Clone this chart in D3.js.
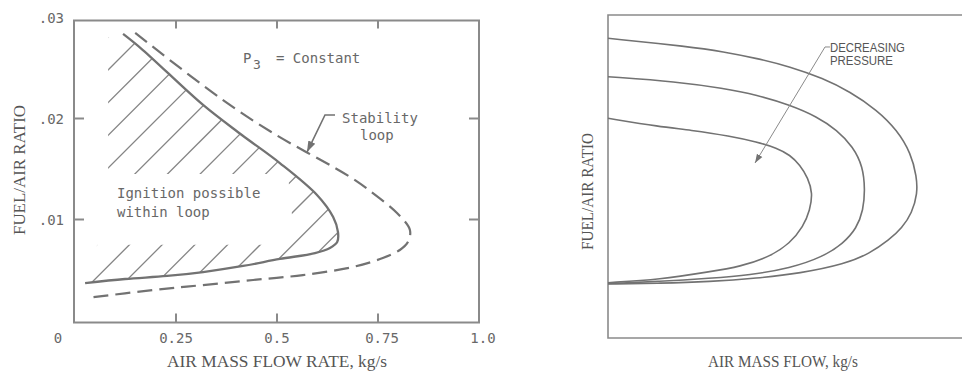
<!DOCTYPE html>
<html><head><meta charset="utf-8">
<script src="https://cdn.jsdelivr.net/npm/d3@7"></script>
<style>body{margin:0;background:#fff}svg{display:block}</style>
</head><body>
<svg id="c" width="962" height="374"></svg>
<script>
// ---------- Left panel data ----------
const xTickValuesL = [0.25, 0.5, 0.75];
const xTickLabelsL = ["0", "0.25", "0.5", "0.75", "1.0"];
const xTickLabelValuesL = [0, 0.25, 0.5, 0.75, 1.0];
const yTickValuesL = [0.01, 0.02];
const yTickLabelsL = [".01", ".02", ".03"];
const yTickLabelValuesL = [0.01, 0.02, 0.03];

// ignition loop (solid) [air mass flow kg/s, fuel/air ratio]
const ignitionLoop = [
  [0.119,0.02837],[0.168,0.02678],[0.317,0.02134],[0.413,0.01837],[0.507,0.01559],
  [0.599,0.01243],[0.639,0.01025],[0.651,0.00876],[0.649,0.00777],[0.631,0.00718],
  [0.594,0.00668],[0.507,0.00609],[0.416,0.00540],[0.317,0.00480],[0.228,0.00441],
  [0.124,0.00411],[0.025,0.00371]
];
// stability loop (dashed)
const stabilityLoop = [
  [0.149,0.02847],[0.359,0.02203],[0.490,0.01856],[0.681,0.01421],[0.743,0.01243],
  [0.797,0.01064],[0.829,0.00896],[0.824,0.00777],[0.804,0.00698],[0.762,0.00619],
  [0.688,0.00530],[0.564,0.00450],[0.441,0.00401],[0.317,0.00351],[0.193,0.00302],
  [0.030,0.00223]
];
// hatch extra boundary (left side) and un-hatched text band
const hatchLeftEdge = [[0.055,0.0075],[0.082,0.0075],[0.082,0.0280]];
const hatchGap = [[0.0,0.0145],[0.527,0.0145],[0.537,0.0105],[0.522,0.0075],[0.0,0.0075]];

// ---------- Right panel data (relative units) ----------
const curveHigh = [
  [0,0.9279],[0.2316,0.9019],[0.3249,0.8864],[0.4209,0.8659],[0.5141,0.8399],[0.6073,0.8040],
  [0.6836,0.7625],[0.7599,0.7059],[0.8164,0.6440],[0.8560,0.5718],[0.8720,0.4994],[0.8743,0.4480],
  [0.8588,0.3870],[0.8305,0.3406],[0.7938,0.3034],[0.7401,0.2622],[0.6695,0.2291],[0.5424,0.2003],
  [0.4201,0.1848],[0.2881,0.1743],[0.1469,0.1693],[0,0.1672]
];
const curveMid = [
  [0,0.8090],[0.1949,0.7935],[0.3249,0.7731],[0.4209,0.7523],[0.5141,0.7214],[0.5904,0.6851],
  [0.6469,0.6440],[0.6921,0.5923],[0.7203,0.5303],[0.7260,0.4582],[0.7212,0.3963],[0.7025,0.3396],
  [0.6647,0.2932],[0.6082,0.2517],[0.5141,0.2158],[0.4011,0.1950],[0.2881,0.1848],[0.1469,0.1749],
  [0,0.1687]
];
const curveLow = [
  [0,0.6802],[0.1469,0.6542],[0.2316,0.6440],[0.3446,0.6254],[0.4209,0.6068],[0.4774,0.5882],
  [0.5141,0.5666],[0.5424,0.5356],[0.5650,0.4954],[0.5782,0.4489],[0.5706,0.3963],[0.5517,0.3446],
  [0.5141,0.2932],[0.4576,0.2517],[0.3729,0.2207],[0.2881,0.2053],[0.1469,0.1811],[0,0.1712]
];
const pressureLeader = [[0.627,0.901],[0.613,0.901],[0.4153,0.5418]];
const stabilityLeader = [[0.6436,0.02035],[0.6188,0.02035],[0.5743,0.01668]];

// ---------- drawing ----------
const svg = d3.select("#c");
const ink = "#727272";
const textInk = "#686868";
const mono = "'DejaVu Sans Mono', monospace";
const serif = "'Liberation Serif', 'Times New Roman', serif";
const sans = "'Liberation Sans', Arial, sans-serif";

const defs = svg.append("defs");
function arrowMarker(id, size) {
  defs.append("marker").attr("id", id).attr("viewBox", "0 0 10 10")
    .attr("refX", 10).attr("refY", 5).attr("markerWidth", size).attr("markerHeight", size)
    .attr("markerUnits", "userSpaceOnUse").attr("orient", "auto")
    .append("path").attr("d", "M0,1.5 L10,5 L0,8.5 Z").attr("fill", ink);
}
arrowMarker("arrL", 11);
arrowMarker("arrR", 9);

// Left scales
const xL = d3.scaleLinear().domain([0, 1]).range([75, 479]);
const yL = d3.scaleLinear().domain([0, 0.03]).range([320.5, 17.5]);
const frameTopL = 20.5, frameBotL = 322.5;
const gL = svg.append("g");

gL.append("rect").attr("x", xL(0) - 1).attr("y", frameTopL)
  .attr("width", xL(1) - xL(0) + 1).attr("height", frameBotL - frameTopL)
  .attr("fill", "none").attr("stroke", "#8a8a8a").attr("stroke-width", 2);
xTickValuesL.forEach(v => {
  gL.append("line").attr("x1", xL(v)).attr("x2", xL(v)).attr("y1", frameTopL).attr("y2", frameTopL + 8)
    .attr("stroke", "#8a8a8a").attr("stroke-width", 2);
  gL.append("line").attr("x1", xL(v)).attr("x2", xL(v)).attr("y1", frameBotL).attr("y2", frameBotL - 9)
    .attr("stroke", "#8a8a8a").attr("stroke-width", 2);
});
yTickValuesL.forEach(v => {
  gL.append("line").attr("x1", xL(0) - 1).attr("x2", xL(0) + 9).attr("y1", yL(v)).attr("y2", yL(v))
    .attr("stroke", "#8a8a8a").attr("stroke-width", 2);
  gL.append("line").attr("x1", xL(1)).attr("x2", xL(1) - 10).attr("y1", yL(v)).attr("y2", yL(v))
    .attr("stroke", "#8a8a8a").attr("stroke-width", 2);
});
xTickLabelValuesL.forEach((v, i) => {
  gL.append("text").attr("x", v === 0 ? xL(0) - 17 : xL(v) + (v >= 0.75 ? 4 : 0)).attr("y", 343)
    .attr("text-anchor", "middle").attr("font-family", mono).attr("font-size", 14)
    .attr("fill", textInk).text(xTickLabelsL[i]);
});
yTickLabelValuesL.forEach((v, i) => {
  gL.append("text").attr("x", 64).attr("y", yL(v)).attr("dy", "0.36em")
    .attr("text-anchor", "end").attr("font-family", mono).attr("font-size", 14)
    .attr("fill", textInk).text(yTickLabelsL[i]);
});
gL.append("text").attr("transform", "translate(25,170) rotate(-90)")
  .attr("text-anchor", "middle").attr("font-family", serif).attr("font-size", 17)
  .attr("textLength", 130).attr("lengthAdjust", "spacingAndGlyphs")
  .attr("fill", "#555").text("FUEL/AIR RATIO");
gL.append("text").attr("x", 277).attr("y", 367)
  .attr("text-anchor", "middle").attr("font-family", serif).attr("font-size", 17)
  .attr("textLength", 220).attr("lengthAdjust", "spacingAndGlyphs")
  .attr("fill", "#555").text("AIR MASS FLOW RATE, kg/s");

// hatch
const lineL = d3.line().x(d => xL(d[0])).y(d => yL(d[1])).curve(d3.curveCatmullRom.alpha(0.5));
const polyL = d3.line().x(d => xL(d[0])).y(d => yL(d[1]));
const mask = defs.append("mask").attr("id", "hatchMask").attr("maskUnits", "userSpaceOnUse")
  .attr("x", 0).attr("y", 0).attr("width", 962).attr("height", 374);
const loopPath = lineL(ignitionLoop);
const edgePath = hatchLeftEdge.map(d => "L" + xL(d[0]) + "," + yL(d[1])).join("") + "Z";
mask.append("path").attr("d", loopPath + edgePath).attr("fill", "#fff");
mask.append("path").attr("d", polyL(hatchGap) + "Z").attr("fill", "#000");
const hatchG = gL.append("g").attr("mask", "url(#hatchMask)");
const spacing = 32.7, phase = 178;
for (let c = phase - spacing * 4; c < 900; c += spacing) {
  hatchG.append("line").attr("x1", c - 374).attr("y1", 374).attr("x2", c).attr("y2", 0)
    .attr("stroke", "#858585").attr("stroke-width", 1.3);
}

gL.append("path").attr("d", lineL(stabilityLoop)).attr("fill", "none")
  .attr("stroke", ink).attr("stroke-width", 2.2).attr("stroke-dasharray", "15,7");
gL.append("path").attr("d", loopPath).attr("fill", "none")
  .attr("stroke", ink).attr("stroke-width", 2.3);

gL.append("text").attr("x", xL(0.4158)).attr("y", yL(0.0255)).attr("font-family", mono)
  .attr("font-size", 14).attr("fill", textInk).text("P");
gL.append("text").attr("x", xL(0.4406)).attr("y", yL(0.0249)).attr("font-family", mono)
  .attr("font-size", 13).attr("fill", textInk).text("3");
gL.append("text").attr("x", xL(0.4975)).attr("y", yL(0.0255)).attr("font-family", mono)
  .attr("font-size", 14).attr("fill", textInk).text("= Constant");
gL.append("text").attr("x", xL(0.661)).attr("y", yL(0.01955)).attr("font-family", mono)
  .attr("font-size", 14).attr("fill", textInk).text("Stability");
gL.append("text").attr("x", xL(0.7054)).attr("y", yL(0.01787)).attr("font-family", mono)
  .attr("font-size", 14).attr("fill", textInk).text("loop");
gL.append("path").attr("d", polyL(stabilityLeader)).attr("fill", "none")
  .attr("stroke", ink).attr("stroke-width", 1.6).attr("marker-end", "url(#arrL)");
gL.append("text").attr("x", xL(0.104)).attr("y", yL(0.01213)).attr("font-family", mono)
  .attr("font-size", 14).attr("fill", textInk).text("Ignition possible");
gL.append("text").attr("x", xL(0.104)).attr("y", yL(0.01025)).attr("font-family", mono)
  .attr("font-size", 14).attr("fill", textInk).text("within loop");

// Right panel
const xR = d3.scaleLinear().domain([0, 1]).range([608, 962]);
const yR = d3.scaleLinear().domain([0, 1]).range([338, 15]);
const gR = svg.append("g");
gR.append("path").attr("d", `M${xR(1)},${yR(1)}H${xR(0)}V${yR(0)}H${xR(1)}`)
  .attr("fill", "none").attr("stroke", "#8a8a8a").attr("stroke-width", 1.6);
const lineR = d3.line().x(d => xR(d[0])).y(d => yR(d[1])).curve(d3.curveBasis);
[curveHigh, curveMid, curveLow].forEach(c => {
  gR.append("path").attr("d", lineR(c)).attr("fill", "none")
    .attr("stroke", ink).attr("stroke-width", 1.6);
});
const polyR = d3.line().x(d => xR(d[0])).y(d => yR(d[1]));
gR.append("path").attr("d", polyR(pressureLeader)).attr("fill", "none")
  .attr("stroke", "#8a8a8a").attr("stroke-width", 1).attr("marker-end", "url(#arrR)");
gR.append("text").attr("x", xR(0.627)).attr("y", yR(0.886)).attr("font-family", sans)
  .attr("font-size", 12).attr("textLength", 75).attr("lengthAdjust", "spacingAndGlyphs")
  .attr("fill", "#555").text("DECREASING");
gR.append("text").attr("x", xR(0.627)).attr("y", yR(0.845)).attr("font-family", sans)
  .attr("font-size", 12).attr("textLength", 63).attr("lengthAdjust", "spacingAndGlyphs")
  .attr("fill", "#555").text("PRESSURE");
gR.append("text").attr("transform", "translate(593,191.5) rotate(-90)")
  .attr("text-anchor", "middle").attr("font-family", serif).attr("font-size", 16)
  .attr("textLength", 117).attr("lengthAdjust", "spacingAndGlyphs")
  .attr("fill", "#555").text("FUEL/AIR RATIO");
gR.append("text").attr("x", 783).attr("y", 367)
  .attr("text-anchor", "middle").attr("font-family", serif).attr("font-size", 16)
  .attr("textLength", 150).attr("lengthAdjust", "spacingAndGlyphs")
  .attr("fill", "#555").text("AIR MASS FLOW, kg/s");
</script>
</body></html>
